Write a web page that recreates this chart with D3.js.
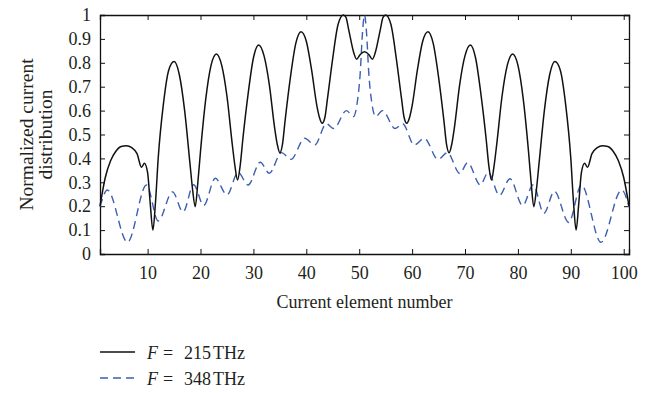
<!DOCTYPE html>
<html>
<head>
<meta charset="utf-8">
<script src="https://cdn.jsdelivr.net/npm/d3@7"></script>
<style>
  body { margin: 0; background: #fff; }
  text { font-family: "Liberation Serif", "Times New Roman", serif; fill: #231f20; }
</style>
</head>
<body>
<div id="chart"></div>
<script>
// element positions and normalized current
var blackX = [1, 2, 3, 4, 5, 6, 7, 8, 8.85, 9.4, 10, 10.5, 11, 11.5, 12, 13, 14, 15, 16, 17, 18, 18.5, 19, 19.5, 20,
              21, 22, 23, 24, 25, 26, 26.5, 27, 27.5, 28, 29, 30, 31, 32, 33, 34, 34.5, 35, 35.5, 36, 37, 38, 39, 40,
              41, 42, 42.5, 43, 43.5, 44, 45, 46, 47, 47.5, 48, 49, 49.5, 50.2, 51, 51.8, 52.5, 53, 54, 54.5, 55,
              56, 57, 58, 58.5, 59, 59.5, 60, 61, 62, 63, 64, 65, 66, 66.5, 67, 67.5, 68, 69, 70, 71, 72, 73, 74,
              74.5, 75, 75.5, 76, 77, 78, 79, 80, 81, 82, 82.5, 83, 83.5, 84, 85, 86, 87, 88, 89, 90, 90.5, 91,
              91.5, 92, 92.6, 93.15, 94, 95, 96, 97, 98, 99, 100, 101];
var blackY = [0.20, 0.32, 0.39, 0.43, 0.45, 0.453, 0.445, 0.42, 0.363, 0.38, 0.34, 0.21, 0.10, 0.22, 0.40, 0.63, 0.77, 0.805, 0.75, 0.60, 0.38, 0.27, 0.198, 0.30, 0.43,
              0.65, 0.79, 0.837, 0.79, 0.66, 0.46, 0.37, 0.31, 0.37, 0.48, 0.67, 0.82, 0.875, 0.83, 0.71, 0.53, 0.46, 0.424, 0.46, 0.56, 0.74, 0.88, 0.93, 0.89,
              0.77, 0.62, 0.57, 0.547, 0.57, 0.65, 0.82, 0.96, 1.0, 0.99, 0.94, 0.84, 0.815, 0.835, 0.846, 0.835, 0.815, 0.84, 0.94, 0.99, 1.0,
              0.96, 0.82, 0.65, 0.57, 0.547, 0.57, 0.62, 0.77, 0.89, 0.93, 0.88, 0.74, 0.56, 0.46, 0.424, 0.46, 0.53, 0.71, 0.83, 0.875, 0.82, 0.67, 0.48,
              0.37, 0.31, 0.37, 0.46, 0.66, 0.79, 0.837, 0.79, 0.65, 0.43, 0.30, 0.198, 0.27, 0.38, 0.60, 0.75, 0.805, 0.77, 0.63, 0.40, 0.22, 0.10,
              0.21, 0.34, 0.38, 0.363, 0.42, 0.445, 0.453, 0.45, 0.43, 0.39, 0.32, 0.20];

var blueX = [1, 2.4, 6.2, 9.8, 12.0, 14.7, 16.7, 18.7, 20.6, 22.8, 25.0, 27.1, 29.0, 31.3, 33.0, 35.3, 37.1, 39.7, 41.6,
             43.8, 45.2, 47.6, 48.9, 49.6, 50.2, 50.6, 51, 51.4, 51.8, 52.4, 53.1, 54.4, 56.8, 58.2, 60.4, 62.3, 64.9,
             66.7, 69.0, 70.5, 72.9, 74.4, 76.5, 78.5, 80.9, 82.9, 84.9, 86.9, 89.6, 92.0, 95.7, 99.6, 101];
var blueY = [0.198, 0.268, 0.049, 0.289, 0.138, 0.26, 0.176, 0.29, 0.203, 0.317, 0.247, 0.341, 0.289, 0.384, 0.338, 0.424, 0.396, 0.484, 0.456,
             0.545, 0.525, 0.60, 0.575, 0.63, 0.76, 0.92, 1.0, 0.92, 0.76, 0.63, 0.575, 0.60, 0.525, 0.545, 0.456, 0.484, 0.396,
             0.424, 0.337, 0.382, 0.289, 0.342, 0.245, 0.315, 0.203, 0.29, 0.17, 0.262, 0.132, 0.289, 0.049, 0.268, 0.198];

var xTicks = [10, 20, 30, 40, 50, 60, 70, 80, 90, 100];
var yTicks = [0, 0.1, 0.2, 0.3, 0.4, 0.5, 0.6, 0.7, 0.8, 0.9, 1];
var yTickLabels = ["0", "0.1", "0.2", "0.3", "0.4", "0.5", "0.6", "0.7", "0.8", "0.9", "1"];
var legendValues = ["215", "348"];

function init() {
    var w = 658, h = 393;
    var left = 100, right = 629, top = 15, bottom = 254;

    var svg = d3.select("#chart").append("svg")
                .attr("width", w)
                .attr("height", h);

    var xScale = d3.scaleLinear().domain([1, 101]).range([left, right]);
    var yScale = d3.scaleLinear().domain([0, 1]).range([bottom, top]);

    var fmt = function(d) { return yTickLabels[yTicks.indexOf(d)]; };

    var axes = [
        ["translate(0," + bottom + ")", d3.axisBottom(xScale).tickValues(xTicks).tickSize(-5).tickPadding(12)],
        ["translate(0," + top + ")", d3.axisTop(xScale).tickValues(xTicks).tickSize(-5).tickFormat("")],
        ["translate(" + left + ",0)", d3.axisLeft(yScale).tickValues(yTicks).tickSize(-5).tickPadding(9).tickFormat(fmt)],
        ["translate(" + right + ",0)", d3.axisRight(yScale).tickValues(yTicks).tickSize(-5).tickFormat("")]
    ];
    axes.forEach(function(a) {
        var g = svg.append("g").attr("transform", a[0]).call(a[1]);
        g.select(".domain").attr("stroke", "#111").attr("stroke-width", 1.3);
        g.selectAll(".tick line").attr("stroke", "#111").attr("stroke-width", 1);
        g.selectAll("text").attr("font-size", 18).attr("fill", "#231f20")
         .style("font-family", "'Liberation Serif', serif");
    });

    var line = d3.line()
                 .x(function(d) { return xScale(d[0]); })
                 .y(function(d) { return yScale(d[1]); })
                 .curve(d3.curveMonotoneX);

    svg.append("path")
       .datum(d3.zip(blueX, blueY))
       .attr("fill", "none")
       .attr("stroke", "#3d5fb0")
       .attr("stroke-width", 1.4)
       .attr("stroke-dasharray", "8,5")
       .attr("d", line);

    svg.append("path")
       .datum(d3.zip(blackX, blackY))
       .attr("fill", "none")
       .attr("stroke", "#111")
       .attr("stroke-width", 1.5)
       .attr("d", line);

    // axis titles
    svg.append("text")
       .attr("x", (left + right) / 2)
       .attr("y", 308)
       .attr("text-anchor", "middle")
       .attr("font-size", 18)
       .text("Current element number");

    var yl = svg.append("text")
       .attr("transform", "translate(33," + ((top + bottom) / 2) + ") rotate(-90)")
       .attr("text-anchor", "middle")
       .attr("font-size", 19.5);
    yl.append("tspan").attr("x", 0).attr("y", 0).text("Normalized current");
    yl.append("tspan").attr("x", 0).attr("y", 19).text("distribution");

    // legend
    var styles = [{ c: "#111", dash: null }, { c: "#3d5fb0", dash: "8,5" }];
    legendValues.forEach(function(v, i) {
        var y = 352 + i * 26;
        svg.append("line")
           .attr("x1", 100).attr("x2", 135)
           .attr("y1", y).attr("y2", y)
           .attr("stroke", styles[i].c)
           .attr("stroke-width", 1.4)
           .attr("stroke-dasharray", styles[i].dash);
        var t = svg.append("text").attr("y", y + 7).attr("font-size", 18);
        t.append("tspan").attr("x", 147).attr("font-style", "italic").text("F");
        t.append("tspan").attr("x", 163).text("=");
        t.append("tspan").attr("x", 184).text(v);
        t.append("tspan").attr("x", 213).text("THz");
    });
}

window.onload = init;
</script>
</body>
</html>
